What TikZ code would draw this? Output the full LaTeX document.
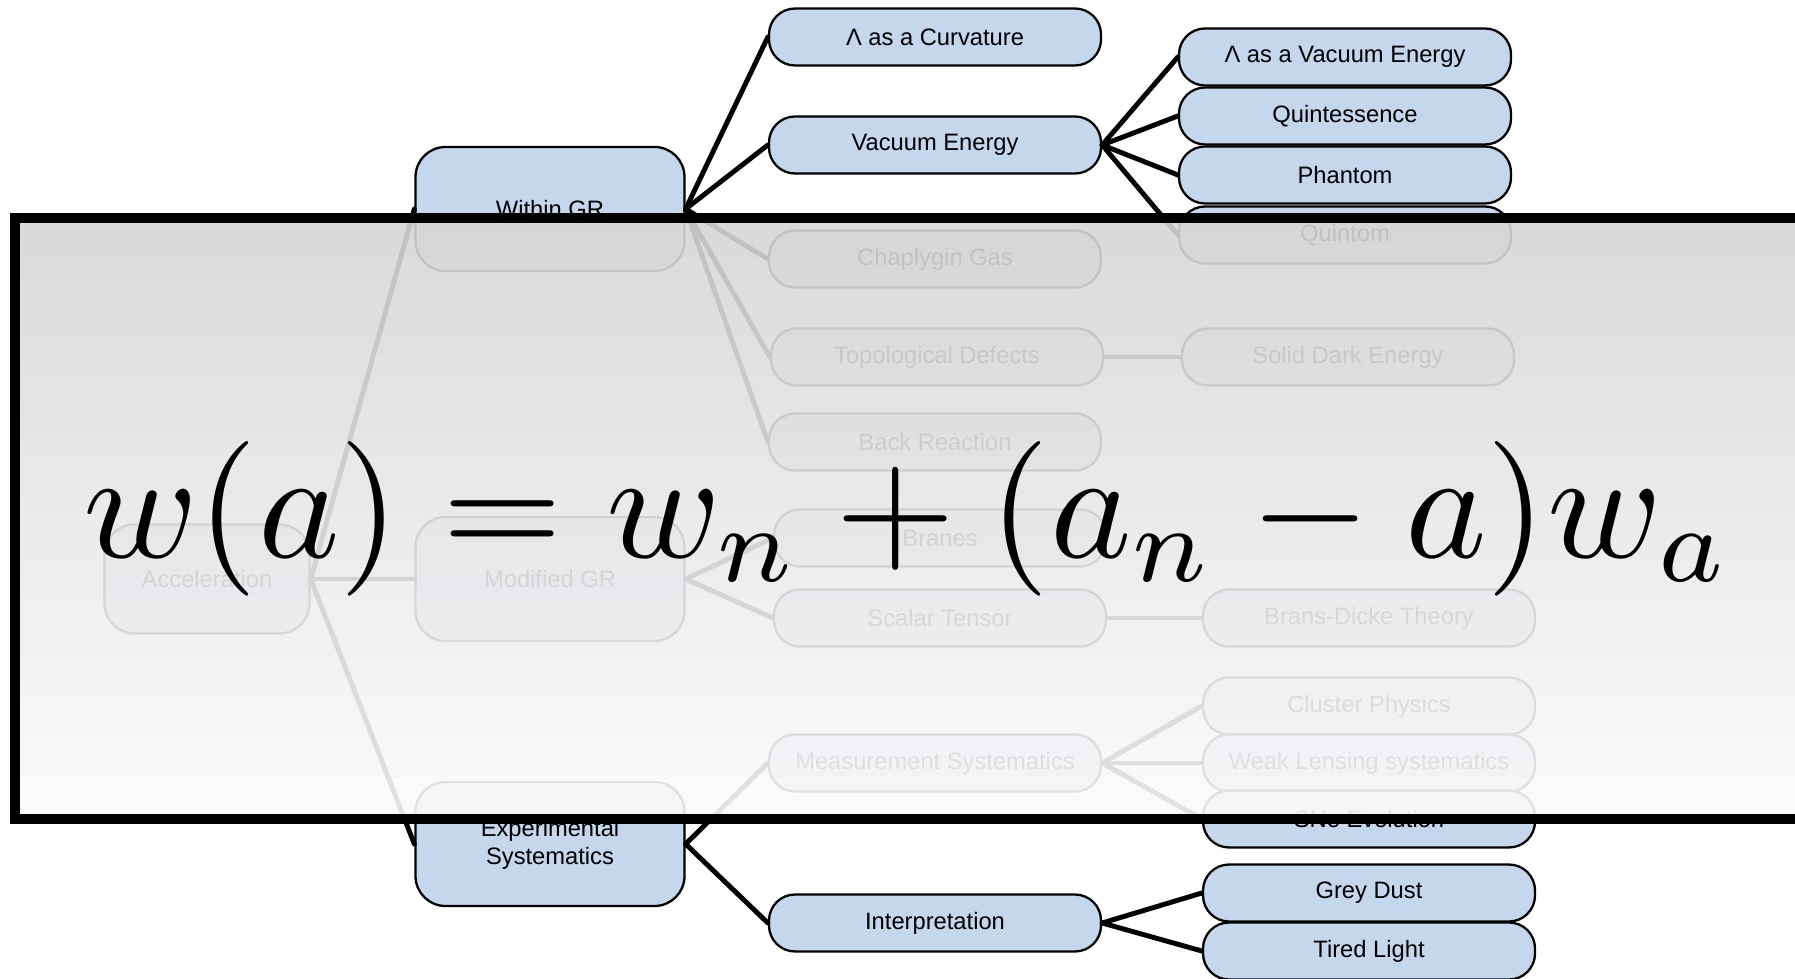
\documentclass[tikz,border=0pt]{standalone}
\usepackage[no-math]{fontspec}
\setmainfont{Liberation Sans}
\definecolor{nodeblue}{RGB}{196,215,236}
\tikzset{
  box/.style={draw=black, line width=0.65pt, fill=nodeblue, rounded corners=2.6mm,
    minimum width=33.2mm, minimum height=5.7mm, inner sep=0pt, align=center,
    font=\fontsize{6.75}{8}\selectfont},
  bigbox/.style={box, rounded corners=3mm, minimum width=26.9mm, minimum height=12.4mm},
  link/.style={line width=1.4pt}
}
\begin{document}
\begin{tikzpicture}[x=0.1mm, y=-0.1mm, line cap=round]
      \clip (0,0) rectangle (1795,979);
      % first two levels
      \node[bigbox, minimum width=20.5mm, minimum height=10.9mm] (accel) at (207,579) {Acceleration};
      \node[bigbox] (withingr) at (550,209) {Within GR};
      \node[bigbox] (modgr) at (550,579) {Modified GR};
      \node[bigbox] (expsys) at (550,844) {Experimental\\Systematics};
      % third level
      \node[box] (curv) at (935,37) {Λ as a Curvature};
      \node[box] (vacuum) at (935,145) {Vacuum Energy};
      \node[box] (chaplygin) at (935,259) {Chaplygin Gas};
      \node[box] (topo) at (937,357) {Topological Defects};
      \node[box] (backreac) at (935,442) {Back Reaction};
      \node[box] (branes) at (940,538) {Branes};
      \node[box] (scalar) at (940,618) {Scalar Tensor};
      \node[box] (meas) at (935,763) {Measurement Systematics};
      \node[box] (interp) at (935,923) {Interpretation};
      % leaves
      \node[box] (lamvac) at (1345,57) {Λ as a Vacuum Energy};
      \node[box] (quint) at (1345,116) {Quintessence};
      \node[box] (phantom) at (1345,175) {Phantom};
      \node[box] (quintom) at (1345,235) {Quintom};
      \node[box] (solid) at (1348,357) {Solid Dark Energy};
      \node[box] (brans) at (1369,618) {Brans-Dicke Theory};
      \node[box] (cluster) at (1369,706) {Cluster Physics};
      \node[box] (weak) at (1369,763) {Weak Lensing systematics};
      \node[box] (sne) at (1369,819) {SNe Evolution};
      \node[box] (grey) at (1369,893) {Grey Dust};
      \node[box] (tired) at (1369,951) {Tired Light};
      % connectors
      \draw[link] (accel.east) -- (withingr.west);
      \draw[link] (accel.east) -- (modgr.west);
      \draw[link] (accel.east) -- (expsys.west);
      \draw[link] (withingr.east) -- (curv.west);
      \draw[link] (withingr.east) -- (vacuum.west);
      \draw[link] (withingr.east) -- (chaplygin.west);
      \draw[link] (withingr.east) -- (topo.west);
      \draw[link] (withingr.east) -- (backreac.west);
      \draw[link] (vacuum.east) -- (lamvac.west);
      \draw[link] (vacuum.east) -- (quint.west);
      \draw[link] (vacuum.east) -- (phantom.west);
      \draw[link] (vacuum.east) -- (quintom.west);
      \draw[link] (topo.east) -- (solid.west);
      \draw[link] (modgr.east) -- (branes.west);
      \draw[link] (modgr.east) -- (scalar.west);
      \draw[link] (scalar.east) -- (brans.west);
      \draw[link] (expsys.east) -- (meas.west);
      \draw[link] (expsys.east) -- (interp.west);
      \draw[link] (meas.east) -- (cluster.west);
      \draw[link] (meas.east) -- (weak.west);
      \draw[link] (meas.east) -- (sne.west);
      \draw[link] (interp.east) -- (grey.west);
      \draw[link] (interp.east) -- (tired.west);
      % veil with the equation
      \begin{scope}[transparency group, opacity=0.9]
        \foreach \k in {0,...,29}{
          \pgfmathsetmacro{\shade}{16-14*\k/29}
          \fill[black!\shade] (15,218+20*\k) rectangle (1840,218+20*\k+21);
        }
      \end{scope}
      \draw[line width=2.6pt] (15,218) rectangle (1840,819);
      \node[anchor=base west, inner sep=0pt, scale=4.4, transform shape] (eq) at (80,558)
        {$w(a) = w_n + (a_n - a)w_a$};
\end{tikzpicture}
\end{document}
